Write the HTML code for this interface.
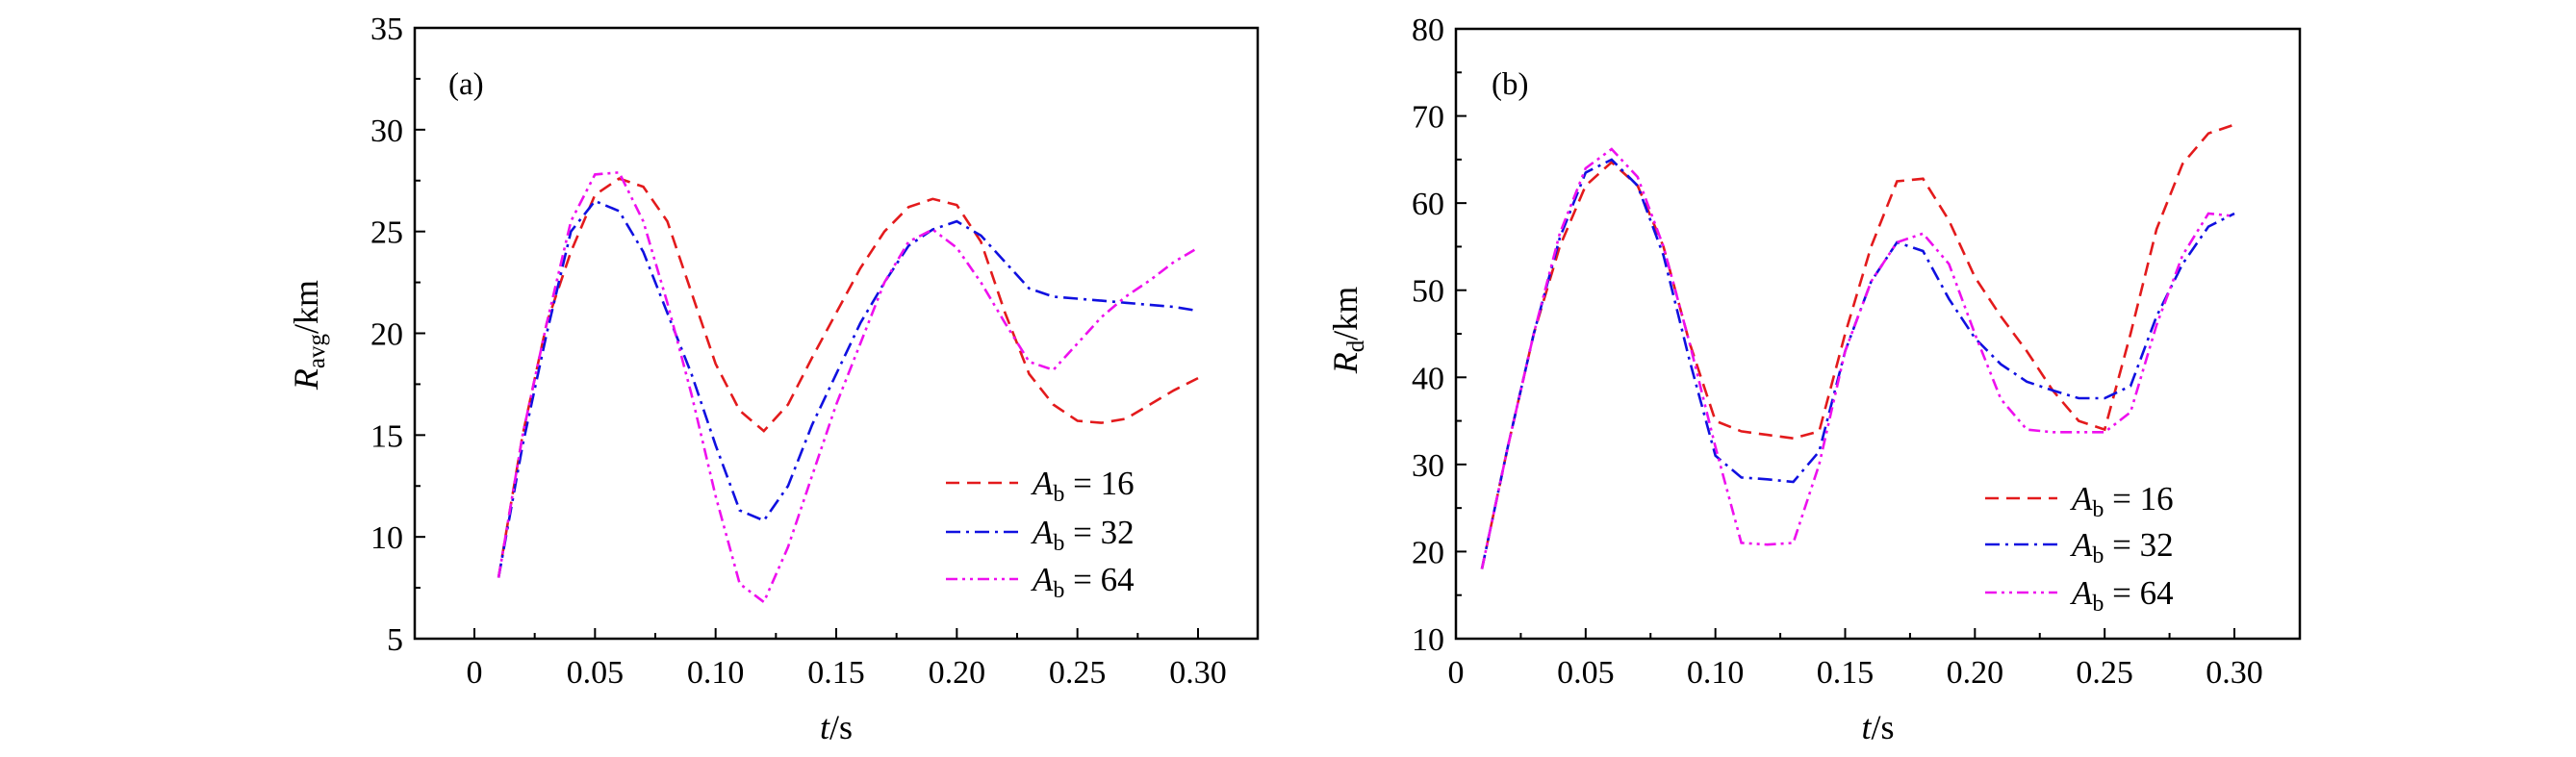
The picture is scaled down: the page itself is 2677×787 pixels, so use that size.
<!DOCTYPE html>
<html><head><meta charset="utf-8"><style>
html,body{margin:0;padding:0;background:#fff;}
svg{display:block;font-family:"Liberation Serif",serif;}
</style></head><body>
<svg id="c" width="2677" height="787" viewBox="0 0 2677 787" xmlns="http://www.w3.org/2000/svg"></svg>
<script>
const times=[0.01,0.02,0.03,0.04,0.05,0.06,0.07,0.08,0.09,0.10,0.11,0.12,0.13,0.14,0.15,0.16,0.17,0.18,0.19,0.20,0.21,0.22,0.23,0.24,0.25,0.26,0.27,0.28,0.29,0.30];
const aRed=[8,15,20.5,24,26.8,27.6,27.2,25.5,22,18.5,16.2,15.2,16.5,18.8,21,23.2,25,26.2,26.6,26.3,24.5,21,18,16.5,15.7,15.6,15.8,16.5,17.2,17.8];
const aBlue=[8,14.5,20,25,26.5,26,24,21,18,14.5,11.3,10.8,12.5,15.5,18,20.5,22.5,24.3,25.1,25.5,24.8,23.5,22.2,21.8,21.7,21.6,21.5,21.4,21.3,21.1];
const aMag=[8,15,20.5,25.5,27.8,27.9,25.5,21.5,17,12,7.7,6.8,9.5,13,16.5,19.5,22.5,24.5,25.1,24.2,22.5,20.5,18.6,18.2,19.5,20.8,21.8,22.6,23.5,24.2];
const bRed=[18,32,45,55,62,64.7,62,55,44,35,33.8,33.4,33,33.8,45,55,62.5,62.8,58,51.5,47,43,38.5,35,34,45,57,64.5,68,69];
const bBlue=[18,32,45,56,63.5,65,62,54,42,31,28.5,28.3,28,31.5,43,51,55.5,54.5,49,44.5,41.5,39.5,38.5,37.6,37.6,39,47,53,57.3,58.8];
const bMag=[18,32,45,56.5,64,66.2,63,55,44,32,21,20.8,21,30,43,51,55.5,56.5,53,45,37.5,34,33.7,33.7,33.7,36,46,54,58.8,58.5];
const aYTicks=[5,10,15,20,25,30,35];
const bYTicks=[10,20,30,40,50,60,70,80];
const xTicks=[0,0.05,0.10,0.15,0.20,0.25,0.30];
const xTickLabels=["0","0.05","0.10","0.15","0.20","0.25","0.30"];
const legendLabels=["16","32","64"];

const NS="http://www.w3.org/2000/svg";
const svg=document.getElementById('c');
function mk(tag,attrs,parent){const e=document.createElementNS(NS,tag);for(const k in attrs)e.setAttribute(k,attrs[k]);(parent||svg).appendChild(e);return e;}
const styles=[{c:"#e31a1c",d:"14 8"},{c:"#1010e0",d:"15 6 3 6"},{c:"#ee10ee",d:"12 5 3 5 3 5"}];

function panel(p){
  const g=mk('g',{});
  
  
  const X=v=>p.x0+(v-0)*(p.x30-p.x0)/0.30;
  const Y=v=>p.bottom-(v-p.ymin)*(p.bottom-p.top)/(p.ymax-p.ymin);
  const tk=mk('g',{stroke:'#000','stroke-width':2},g);
  
  
  for(let v=p.xMinorStart;v<=0.3251;v+=0.025){const x=X(v);if(x<p.left+2||x>p.right-2)continue;const major=Math.abs(v/0.05-Math.round(v/0.05))<1e-6;mk('line',{x1:x,x2:x,y1:p.bottom,y2:p.bottom-(major?11:6)},tk);}
  const ys=(p.ymax-p.ymin)/((p.yTicks.length-1)*2);
  for(let i=0;i<=(p.yTicks.length-1)*2;i++){const y=Y(p.ymin+i*ys);mk('line',{x1:p.left,x2:p.left+(i%2?6:11),y1:y,y2:y},tk);}
  p.yTicks.forEach(v=>{const t=mk('text',{x:p.left-12,y:Y(v)+12,'text-anchor':'end','font-size':34},g);t.textContent=v;});
  xTicks.forEach((v,i)=>{const t=mk('text',{x:X(v),y:710,'text-anchor':'middle','font-size':34},g);t.textContent=xTickLabels[i];});
  [p.s[0],p.s[1],p.s[2]].forEach((arr,k)=>{
    const d=arr.map((v,i)=>(i?'L':'M')+X(times[i]).toFixed(1)+','+Y(v).toFixed(1)).join(' ');
    const l=mk('path',{d:d,fill:'none',stroke:styles[k].c,'stroke-width':2.6,'stroke-dasharray':styles[k].d},g);
    
    
  });
  const fr=mk('rect',{x:p.left,y:p.top,width:p.right-p.left,height:p.bottom-p.top,fill:'none',stroke:'#000','stroke-width':2.5},g);
  
  
  const pt=mk('text',{x:p.tagX,y:98,'font-size':33},g);pt.textContent=p.tag;
  
  
  const xt=mk('text',{x:(p.left+p.right)/2,y:768,'text-anchor':'middle','font-size':36},g);
  xt.innerHTML='<tspan font-style="italic">t</tspan>/s';
  
  
  const yt=mk('text',{x:0,y:0,'text-anchor':'middle','font-size':36,transform:`translate(${p.ytx},${p.yty}) rotate(-90)`},g);
  yt.innerHTML='<tspan font-style="italic">R</tspan><tspan font-size="25" dy="7">'+p.sub+'</tspan><tspan dy="-7">/km</tspan>';
  
  
  const lg=mk('g',{},g);
  
  
  legendLabels.forEach((lab,k)=>{
    const y=p.legY[k];
    const e=mk('g',{},lg);
    
    
    mk('line',{x1:p.legX,x2:p.legX+75,y1:y,y2:y,stroke:styles[k].c,'stroke-width':2.6,'stroke-dasharray':styles[k].d},e);
    const t=mk('text',{x:p.legX+90,y:y+12,'font-size':35},e);
    t.innerHTML='<tspan font-style="italic">A</tspan><tspan font-size="24" dy="7">b</tspan><tspan dy="-7"> = '+lab+'</tspan>';
  });
}
panel({name:'panel-a',left:431,right:1307,top:29,bottom:664,x0:493,x30:1245,ymin:5,ymax:35,yTicks:aYTicks,xMinorStart:-0.025,
  s:[aRed,aBlue,aMag],tag:'(a)',tagX:466,sub:'avg',ytx:330,yty:348,legX:983,legY:[502,553,602]});
panel({name:'panel-b',left:1513,right:2390,top:30,bottom:664,x0:1513,x30:2322,ymin:10,ymax:80,yTicks:bYTicks,xMinorStart:0,
  s:[bRed,bBlue,bMag],tag:'(b)',tagX:1550,sub:'d',ytx:1410,yty:343,legX:2063,legY:[518,566,616]});
</script>
</body></html>
